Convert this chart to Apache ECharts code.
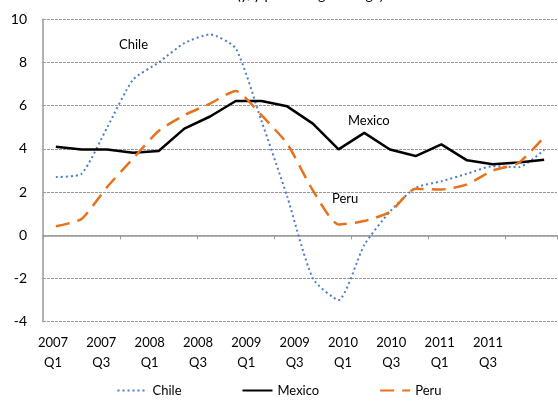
<!DOCTYPE html>
<html>
<head>
<meta charset="utf-8">
<script src="https://cdn.jsdelivr.net/npm/echarts@6/dist/echarts.min.js"></script>
<style>
  html, body { margin: 0; padding: 0; background: #fff; }
  #main { width: 558px; height: 402px; }
</style>
</head>
<body>
<div id="main"></div>
<script>
// quarters 2007 Q1 .. 2011 Q4
var quarters = ['2007Q1','2007Q2','2007Q3','2007Q4','2008Q1','2008Q2','2008Q3','2008Q4',
                '2009Q1','2009Q2','2009Q3','2009Q4','2010Q1','2010Q2','2010Q3','2010Q4',
                '2011Q1','2011Q2','2011Q3','2011Q4'];
var tickLabels = ['2007\nQ1','2007\nQ3','2008\nQ1','2008\nQ3','2009\nQ1',
                  '2009\nQ3','2010\nQ1','2010\nQ3','2011\nQ1','2011\nQ3'];

var chile  = [2.7, 2.85, 5.0, 7.2, 8.0, 8.9, 9.3, 8.65, 5.3, 1.8, -2.0, -3.0, -0.45, 1.1, 2.2, 2.5, 2.85, 3.2, 3.15, 3.95];
var mexico = [4.1, 3.97, 3.97, 3.82, 3.9, 4.94, 5.5, 6.22, 6.22, 5.97, 5.17, 3.98, 4.74, 3.97, 3.67, 4.21, 3.47, 3.29, 3.37, 3.5];
var peru   = [0.42, 0.76, 2.24, 3.55, 4.83, 5.56, 6.1, 6.68, 5.56, 4.24, 2.08, 0.5, 0.66, 1.08, 2.16, 2.12, 2.36, 3.0, 3.35, 4.55];

var font = 'Lato, "Open Sans", sans-serif';
var chart = echarts.init(document.getElementById('main'));

var option = {
    animation: false,
    textStyle: { fontFamily: font },
    title: {
        text: 'Real GDP (y/y percentage change)',
        left: 'center',
        top: -17,
        textStyle: { fontSize: 14, fontWeight: 'normal', color: '#000', fontFamily: font }
    },
    grid: [
        { left: 43, right: 1, top: 19.3, bottom: 80.3 },
        { left: 53, width: 435, top: 19.3, bottom: 80.3 }
    ],
    legend: {
        bottom: 0,
        left: 'center',
        itemWidth: 30,
        itemHeight: 10,
        itemGap: 60,
        itemStyle: { opacity: 0 },
        textStyle: { fontSize: 13, color: '#000', fontFamily: font },
        data: ['Chile', 'Mexico', 'Peru']
    },
    xAxis: [
        {
            gridIndex: 0,
            type: 'category',
            data: quarters,
            boundaryGap: true,
            axisLine: { onZero: true, lineStyle: { color: '#999', width: 1.5 } },
            axisTick: { show: true, length: 4, lineStyle: { color: '#999' } },
            axisLabel: { show: false }
        },
        {
            gridIndex: 1,
            type: 'category',
            data: tickLabels,
            boundaryGap: false,
            axisLine: { show: false },
            axisTick: { show: false },
            axisLabel: { show: true, margin: 11, interval: 0, lineHeight: 20, fontSize: 13, color: '#000', fontFamily: font }
        }
    ],
    yAxis: [
        {
            gridIndex: 0,
            type: 'value',
            min: -4, max: 10, interval: 2,
            axisLine: { show: true, lineStyle: { color: '#999', width: 1.5 } },
            axisTick: { show: false },
            axisLabel: { margin: 16, fontSize: 14, color: '#000', fontFamily: font },
            splitLine: { lineStyle: { color: '#999', type: [3, 1], width: 1 } }
        },
        {
            gridIndex: 1,
            type: 'value',
            show: false,
            splitLine: { show: false }
        }
    ],
    graphic: [
        { type: 'text', left: 119, top: 38, style: { text: 'Chile', fill: '#000', font: '13px ' + font } },
        { type: 'text', left: 348, top: 114, style: { text: 'Mexico', fill: '#000', font: '13px ' + font } },
        { type: 'text', left: 332, top: 192, style: { text: 'Peru', fill: '#000', font: '13px ' + font } }
    ],
    series: [
        {
            name: 'Chile',
            type: 'line',
            data: chile,
            smooth: 0.2,
            symbol: 'none',
            itemStyle: { color: '#4A7EC7' },
            lineStyle: { color: '#4A7EC7', width: 2, type: [2, 3] }
        },
        {
            name: 'Mexico',
            type: 'line',
            data: mexico,
            symbol: 'none',
            itemStyle: { color: '#000' },
            lineStyle: { color: '#000', width: 2.5 }
        },
        {
            name: 'Peru',
            type: 'line',
            data: peru,
            smooth: 0.2,
            symbol: 'none',
            itemStyle: { color: '#E8711A' },
            lineStyle: { color: '#E8711A', width: 2.5, type: [14, 8] }
        }
    ]
};

chart.setOption(option);
</script>
</body>
</html>
